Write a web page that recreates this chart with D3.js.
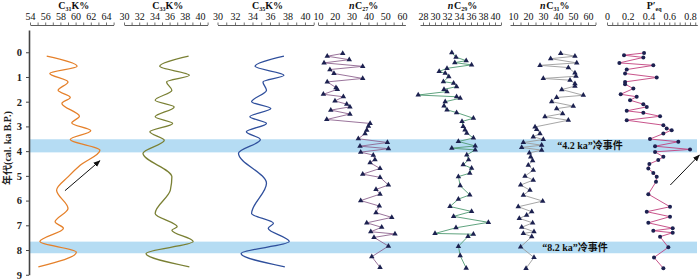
<!DOCTYPE html>
<html>
<head>
<meta charset="utf-8">
<script src="https://cdn.jsdelivr.net/npm/d3@7"></script>
<style>
  body { margin: 0; background: #fff; }
  svg text { font-family: "Liberation Serif", "Noto Sans CJK SC", serif; }
</style>
</head>
<body>
<div id="chart"></div>
<script>
// smooth curves: turning points (age in ka, value in %)
const c31Age = [0.16, 0.57, 0.86, 1.2, 1.54, 1.83, 2.07, 2.59, 2.86, 3.18, 3.53, 3.96, 4.57, 5.04, 5.58, 6.32, 6.86, 7.12, 7.66, 8.09, 8.68];
const c31Val = [56.2, 60.2, 56.6, 59.0, 57.7, 59.3, 58.2, 60.5, 59.5, 62.0, 59.3, 63.2, 60.6, 59.0, 57.5, 59.0, 57.3, 58.4, 55.3, 60.1, 55.1];

const c33Age = [0.16, 0.57, 0.93, 1.2, 1.54, 1.94, 2.21, 2.61, 2.88, 3.22, 3.56, 4.09, 5.04, 5.58, 6.52, 7.06, 7.2, 7.66, 8.14, 8.68];
const c33Val = [38.5, 34.7, 38.6, 35.6, 36.3, 34.1, 36.6, 34.1, 36.4, 33.4, 35.3, 32.5, 36.3, 36.1, 34.1, 37.0, 36.3, 39.1, 32.9, 38.6];

const c35Age = [0.16, 0.57, 0.93, 1.2, 1.54, 2.0, 2.28, 2.61, 2.88, 3.22, 3.53, 4.09, 5.3, 6.52, 6.92, 7.12, 7.66, 8.14, 8.68];
const c35Val = [37.6, 34.3, 37.6, 35.2, 35.6, 33.9, 36.1, 33.7, 35.6, 33.3, 34.9, 32.4, 35.6, 33.9, 36.4, 35.8, 38.2, 32.7, 37.7];

// sample series
const nc27Age = [0.05, 0.16, 0.3, 0.43, 0.57, 0.7, 0.86, 1.06, 1.2, 1.43, 1.5, 1.7, 1.8, 1.97, 2.1, 2.21, 2.34, 2.5, 2.72, 2.88, 2.99, 3.15, 3.29, 3.5, 3.65, 3.8, 3.9, 4.04, 4.16, 4.34, 4.47, 4.7, 4.93, 5.06, 5.37, 5.55, 5.74, 6.0, 6.22, 6.49, 6.68, 6.9, 7.08, 7.26, 7.35, 7.49, 7.84, 8.27, 8.7];
const nc27Val = [24.7, 15.5, 28.6, 13.6, 36.6, 17.1, 19.5, 36.6, 15.5, 20.7, 21.5, 13.2, 25.1, 20.1, 27.1, 29.0, 17.6, 29.0, 15.2, 41.0, 40.0, 39.0, 38.0, 34.0, 51.3, 35.0, 51.9, 35.4, 42.9, 43.9, 41.0, 46.9, 36.6, 46.9, 51.9, 44.5, 46.9, 35.4, 46.5, 44.5, 53.9, 39.0, 47.9, 41.4, 55.8, 43.3, 51.9, 42.0, 46.9];

const nc29Age = [0.02, 0.2, 0.34, 0.42, 0.51, 0.65, 0.78, 0.85, 0.99, 1.19, 1.25, 1.39, 1.5, 1.59, 1.73, 1.8, 1.86, 2.0, 2.17, 2.33, 2.44, 2.67, 2.8, 3.0, 3.14, 3.27, 3.47, 3.61, 3.79, 3.88, 3.95, 4.15, 4.35, 4.55, 4.69, 4.89, 5.03, 5.4, 5.77, 5.94, 6.24, 6.44, 6.64, 6.88, 7.1, 7.33, 7.36, 7.45, 7.85, 8.23, 8.73];
const nc29Val = [32.8, 33.5, 35.2, 33.3, 36.1, 32.0, 30.7, 31.7, 32.3, 31.4, 33.1, 33.6, 31.5, 32.0, 27.2, 33.6, 34.2, 31.7, 31.5, 32.0, 33.6, 36.4, 34.5, 34.7, 35.0, 35.3, 36.4, 33.9, 36.7, 32.8, 36.7, 35.3, 35.6, 34.7, 36.1, 35.8, 33.9, 34.2, 35.8, 33.9, 32.5, 36.1, 33.1, 38.9, 33.5, 30.0, 36.4, 35.5, 33.9, 34.2, 35.2];

const nc31Age = [0.05, 0.16, 0.26, 0.43, 0.53, 0.62, 0.84, 0.97, 1.06, 1.13, 1.27, 1.37, 1.51, 1.74, 1.83, 2.0, 2.18, 2.28, 2.48, 2.61, 2.75, 3.02, 3.12, 3.29, 3.42, 3.53, 3.65, 3.76, 3.85, 3.96, 4.07, 4.23, 4.39, 4.57, 4.77, 5.01, 5.17, 5.37, 5.58, 5.78, 6.02, 6.25, 6.45, 6.59, 6.72, 6.9, 7.08, 7.26, 7.33, 7.46, 7.87, 8.3, 8.74];
const nc31Val = [41.8, 51.3, 35.1, 52.5, 28.0, 46.9, 51.3, 52.0, 30.2, 48.0, 51.3, 51.3, 42.5, 56.9, 39.1, 35.8, 50.2, 39.1, 43.1, 31.3, 46.9, 24.7, 25.8, 28.0, 23.5, 30.2, 16.9, 29.1, 15.8, 29.1, 20.9, 21.8, 23.1, 20.2, 23.5, 18.0, 23.5, 15.1, 21.3, 16.9, 29.8, 13.5, 22.5, 19.1, 14.2, 23.1, 15.8, 24.0, 16.9, 22.5, 15.1, 24.0, 18.7];

const peqAge = [0.03, 0.12, 0.21, 0.43, 0.53, 0.7, 0.86, 1.02, 1.2, 1.29, 1.47, 1.7, 1.8, 1.94, 2.1, 2.21, 2.37, 2.45, 2.59, 2.75, 2.95, 3.08, 3.15, 3.29, 3.51, 3.62, 3.8, 3.93, 4.03, 4.23, 4.36, 4.52, 4.7, 4.88, 5.04, 5.24, 5.74, 6.25, 6.45, 6.65, 6.9, 7.12, 7.22, 7.3, 7.46, 7.89, 8.3, 8.74];
const peqVal = [0.357, 0.164, 0.35, 0.119, 0.446, 0.19, 0.174, 0.479, 0.174, 0.174, 0.254, 0.132, 0.286, 0.222, 0.35, 0.383, 0.19, 0.35, 0.511, 0.19, 0.543, 0.575, 0.623, 0.543, 0.414, 0.687, 0.463, 0.8, 0.463, 0.543, 0.494, 0.408, 0.398, 0.446, 0.479, 0.472, 0.398, 0.607, 0.383, 0.607, 0.398, 0.633, 0.446, 0.633, 0.511, 0.591, 0.453, 0.543];

// cold events (age ranges)
const bandNames = ["\u201c4.2 ka\u201d\u51b7\u4e8b\u4ef6", "\u201c8.2 ka\u201d\u51b7\u4e8b\u4ef6"];
const bandStart = [3.52, 7.66];
const bandEnd = [4.05, 8.13];

const ageTicks = [0, 1, 2, 3, 4, 5, 6, 7, 8, 9];

const width = 700, height = 280;
const svg = d3.select("#chart").append("svg")
  .attr("width", width).attr("height", height);

const y = d3.scaleLinear().domain([-0.9, 9]).range([30, 274.75]);

// panels: scale, tick steps, labels
const panels = [
  { key: "c31", age: c31Age, val: c31Val, x: d3.scaleLinear().domain([54, 65]).range([30, 113.6]),
    minor: 1, major: [54, 56, 58, 60, 62, 64], type: "curve", color: "#e5802a",
    title: [["C", 0], ["31", 1], ["K%", 0]] },
  { key: "c33", age: c33Age, val: c33Val, x: d3.scaleLinear().domain([30, 41]).range([124, 207.6]),
    minor: 1, major: [30, 32, 34, 36, 38, 40], type: "curve", color: "#7a8034",
    title: [["C", 0], ["33", 1], ["K%", 0]] },
  { key: "c35", age: c35Age, val: c35Val, x: d3.scaleLinear().domain([30, 41]).range([217.5, 313.7]),
    minor: 1, major: [30, 32, 34, 36, 38, 40], type: "curve", color: "#2f4f9c",
    title: [["C", 0], ["35", 1], ["K%", 0]] },
  { key: "nc27", age: nc27Age, val: nc27Val, x: d3.scaleLinear().domain([10, 62]).range([318, 405.4]),
    minor: 5, major: [10, 20, 30, 40, 50, 60], type: "tri", color: "#8e6490",
    title: [["nC", 2], ["27", 1], ["%", 0]] },
  { key: "nc29", age: nc29Age, val: nc29Val, x: d3.scaleLinear().domain([27.5, 41]).range([420, 501]),
    minor: 1, major: [28, 30, 32, 34, 36, 38, 40], type: "tri", color: "#4f9a72",
    title: [["nC", 2], ["29", 1], ["%", 0]] },
  { key: "nc31", age: nc31Age, val: nc31Val, x: d3.scaleLinear().domain([8, 65]).range([510, 595.5]),
    minor: 5, major: [10, 20, 30, 40, 50, 60], type: "tri", color: "#9c9c9c",
    title: [["nC", 2], ["31", 1], ["%", 0]] },
  { key: "peq", age: peqAge, val: peqVal, x: d3.scaleLinear().domain([0, 0.87]).range([607, 697.3]),
    minor: 0.05, major: [0, 0.2, 0.4, 0.6, 0.8], type: "dot", color: "#c2417e",
    title: [["P\u2032", 0], ["eq", 1]] }
];

// bands
const bands = bandNames.map((n, i) => ({ name: n, s: bandStart[i], e: bandEnd[i] }));
svg.append("g").selectAll("rect").data(bands).join("rect")
  .attr("x", 30).attr("width", 667)
  .attr("y", d => y(d.s)).attr("height", d => y(d.e) - y(d.s))
  .attr("fill", "#b5dcf3");

// top axes
panels.forEach(p => {
  const [d0, d1] = p.x.domain();
  const ticks = d3.range(Math.ceil(d0 / p.minor - 1e-9) * p.minor, d1 + 1e-9, p.minor)
    .map(v => +v.toFixed(3));
  const g = svg.append("g").attr("transform", "translate(0,25)")
    .call(d3.axisTop(p.x).tickValues(ticks).tickSize(2.5).tickSizeOuter(0).tickPadding(2.5)
      .tickFormat(v => p.major.some(m => Math.abs(m - v) < 1e-6) ? v : ""));
  g.select(".domain").attr("stroke", "#333").attr("stroke-width", 0.8);
  g.selectAll(".tick line").attr("stroke", "#333").attr("stroke-width", 0.7);
  g.selectAll(".tick text").attr("font-family", "Liberation Serif").attr("font-size", 10)
    .attr("fill", "#111");

  const r = p.x.range();
  const t = svg.append("text").attr("x", (r[0] + r[1]) / 2 + 2).attr("y", 9)
    .attr("text-anchor", "middle").attr("font-size", 10).attr("font-weight", "bold").attr("fill", "#111");
  let sub = false;
  p.title.forEach(([s, kind]) => {
    if (kind === 2) {
      // italic n followed by upright C
      t.append("tspan").text(s[0]).attr("font-style", "italic");
      t.append("tspan").text(s.slice(1)).attr("dx", 0.5);
      return;
    }
    const ts = t.append("tspan").text(s);
    if (kind === 1) {
      ts.attr("font-size", 6).attr("dy", 2);
      sub = true;
    } else if (sub) {
      ts.attr("dy", -2);
      sub = false;
    }
  });
});

// y axis
const ya = svg.append("g").attr("transform", "translate(29,0)")
  .call(d3.axisLeft(y).tickValues(ageTicks).tickSize(3).tickSizeOuter(0).tickPadding(4));
ya.select(".domain").attr("stroke", "#444").attr("stroke-width", 1.6);
ya.selectAll(".tick line").attr("stroke", "#444");
ya.selectAll(".tick text").attr("font-family", "Liberation Serif").attr("font-size", 10.5)
  .attr("font-weight", "bold").attr("fill", "#222");

svg.append("text").attr("transform", "translate(11,148) rotate(-90)")
  .attr("text-anchor", "middle").attr("font-size", 10).attr("font-weight", "bold").attr("fill", "#222")
  .text("\u5e74\u4ee3(cal. ka B.P.)");

// series
panels.forEach(p => {
  const data = p.age.map((a, i) => ({ age: a, v: p.val[i] }));
  const line = d3.line().x(d => p.x(d.v)).y(d => y(d.age));
  if (p.type === "curve") {
    svg.append("path").datum(data)
      .attr("d", line.curve(d3.curveMonotoneY))
      .attr("fill", "none").attr("stroke", p.color).attr("stroke-width", 1.3);
  } else {
    svg.append("path").datum(data)
      .attr("d", line)
      .attr("fill", "none").attr("stroke", p.color).attr("stroke-width", 0.9);
    if (p.type === "tri") {
      svg.append("g").selectAll("path").data(data).join("path")
        .attr("transform", d => `translate(${p.x(d.v)},${y(d.age)})`)
        .attr("d", d3.symbol(d3.symbolTriangle).size(13))
        .attr("fill", "#1c2150");
    } else {
      svg.append("g").selectAll("circle").data(data).join("circle")
        .attr("cx", d => p.x(d.v)).attr("cy", d => y(d.age)).attr("r", 2)
        .attr("fill", "#1c2150");
    }
  }
});

// arrows
svg.append("defs").append("marker")
  .attr("id", "ah").attr("viewBox", "0 0 10 10").attr("refX", 9).attr("refY", 5)
  .attr("markerWidth", 7).attr("markerHeight", 7).attr("orient", "auto")
  .append("path").attr("d", "M0,1 L10,5 L0,9 Z").attr("fill", "#111");

const arrows = [
  { p: panels[0], v0: 58.6, a0: 5.6, v1: 63.2, a1: 4.39 },
  { p: panels[6], v0: 0.61, a0: 5.37, v1: 0.89, a1: 4.16 }
];
svg.append("g").selectAll("line").data(arrows).join("line")
  .attr("x1", d => d.p.x(d.v0)).attr("y1", d => y(d.a0))
  .attr("x2", d => d.p.x(d.v1)).attr("y2", d => y(d.a1))
  .attr("stroke", "#111").attr("stroke-width", 1).attr("marker-end", "url(#ah)");

// band labels
svg.append("g").selectAll("text").data(bands).join("text")
  .attr("x", (d, i) => i === 0 ? 590 : 575)
  .attr("y", d => (y(d.s) + y(d.e)) / 2 + 3.5)
  .attr("text-anchor", "middle").attr("font-size", 10).attr("font-weight", "bold").attr("fill", "#111")
  .text(d => d.name);
</script>
</body>
</html>
